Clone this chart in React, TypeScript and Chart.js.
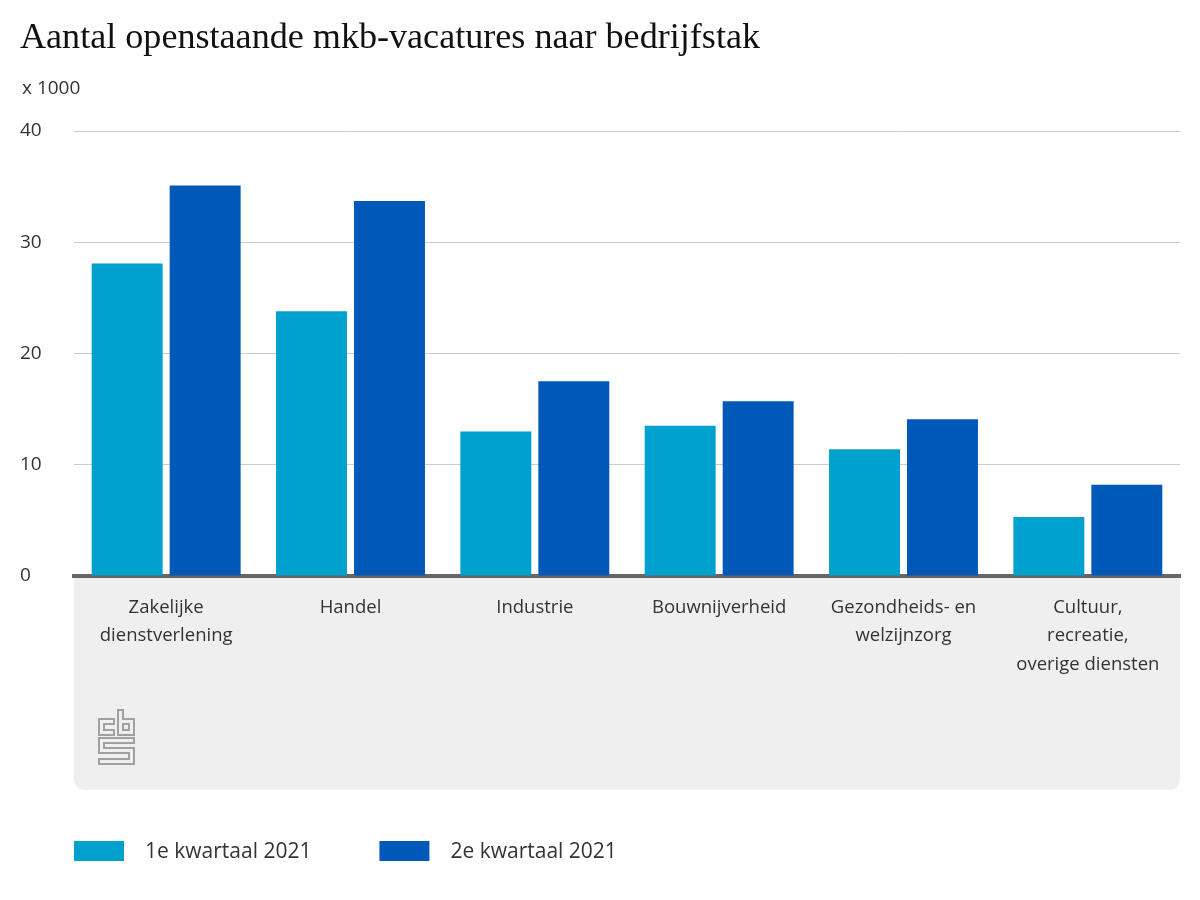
import React, { useEffect, useRef } from "react";
import { Chart, registerables } from "chart.js";

Chart.register(...registerables);

const TITLE = "Aantal openstaande mkb-vacatures naar bedrijfstak";
const UNIT_LABEL = "x 1000";
const categories: string[][] = [
  ["Zakelijke", "dienstverlening"],
  ["Handel"],
  ["Industrie"],
  ["Bouwnijverheid"],
  ["Gezondheids- en", "welzijnzorg"],
  ["Cultuur,", "recreatie,", "overige diensten"],
];
const seriesNames = ["1e kwartaal 2021", "2e kwartaal 2021"];
const q1Values = [28.1, 23.8, 13.0, 13.5, 11.4, 5.3];
const q2Values = [35.1, 33.7, 17.5, 15.7, 14.1, 8.2];
const seriesColors = ["#00a1cd", "#0058b8"];
const yTicks = [0, 10, 20, 30, 40];

const SANS = "'Open Sans', 'Noto Sans', sans-serif";

const decorPlugin = {
  id: "decor",
  beforeDraw(chart: any) {
    const { ctx, chartArea } = chart;
    ctx.save();
    ctx.fillStyle = "#ffffff";
    ctx.fillRect(0, 0, chart.width, chart.height);
    // grey label panel
    const x0 = chartArea.left;
    const x1 = chartArea.right;
    const y0 = chartArea.bottom;
    const y1 = 790;
    const r = 12;
    ctx.fillStyle = "#efefef";
    ctx.beginPath();
    ctx.moveTo(x0, y0);
    ctx.lineTo(x1, y0);
    ctx.lineTo(x1, y1 - r);
    ctx.quadraticCurveTo(x1, y1, x1 - r, y1);
    ctx.lineTo(x0 + r, y1);
    ctx.quadraticCurveTo(x0, y1, x0, y1 - r);
    ctx.closePath();
    ctx.fill();

    // cbs logo
    ctx.strokeStyle = "#a0a0a0";
    ctx.lineWidth = 2;
    ctx.lineJoin = "miter";
    const ox = x0 + 24;
    const oy = 709;
    const P = (pts: number[][], close = false) => {
      ctx.beginPath();
      ctx.moveTo(ox + pts[0][0], oy + pts[0][1]);
      for (let i = 1; i < pts.length; i++) ctx.lineTo(ox + pts[i][0], oy + pts[i][1]);
      if (close) ctx.closePath();
      ctx.stroke();
    };
    // c
    P([[16, 10], [1, 10], [1, 26], [16, 26], [16, 21], [6, 21], [6, 15], [16, 15]], true);
    // b
    P([[20, 1], [20, 26], [36, 26], [36, 10], [25, 10], [25, 1]], true);
    P([[25, 15], [31, 15], [31, 21], [25, 21]], true);
    // s
    P([[36, 29], [1, 29], [1, 44], [31, 44], [31, 50], [1, 50], [1, 55], [36, 55], [36, 39], [6, 39], [6, 34], [36, 34]], true);

    // title
    ctx.fillStyle = "#111111";
    ctx.font = "35px 'Liberation Serif', 'DejaVu Serif', serif";
    ctx.textBaseline = "alphabetic";
    ctx.textAlign = "left";
    const w = ctx.measureText(TITLE).width;
    const target = 740;
    ctx.save();
    ctx.translate(20, 48);
    ctx.scale(target / w, 1);
    ctx.fillText(TITLE, 0, 0);
    ctx.restore();

    // unit label
    ctx.fillStyle = "#333333";
    ctx.font = "19px " + SANS;
    ctx.textBaseline = "middle";
    ctx.fillText(UNIT_LABEL, 22, 89);
    ctx.restore();
  },
  afterDraw(chart: any) {
    const { ctx } = chart;
    ctx.save();
    ctx.font = "21px " + SANS;
    ctx.textBaseline = "middle";
    ctx.textAlign = "left";
    let x = chart.chartArea.left;
    const y = 851;
    chart.data.datasets.forEach((ds: any) => {
      ctx.fillStyle = ds.backgroundColor;
      ctx.fillRect(x, y - 10, 50, 20);
      ctx.fillStyle = "#333333";
      ctx.fillText(ds.label, x + 71, y + 1);
      x += 71 + ctx.measureText(ds.label).width + 68;
    });
    ctx.restore();
  },
};

export default function App() {
  const ref = useRef<HTMLCanvasElement>(null);
  useEffect(() => {
    if (!ref.current) return;
    const chart = new Chart(ref.current, {
      type: "bar",
      data: {
        labels: categories,
        datasets: [
          { label: seriesNames[0], data: q1Values, backgroundColor: seriesColors[0] },
          { label: seriesNames[1], data: q2Values, backgroundColor: seriesColors[1] },
        ],
      },
      options: {
        animation: false,
        responsive: false,
        devicePixelRatio: 1,
        categoryPercentage: 0.846,
        barPercentage: 0.91,
        layout: { padding: { top: 131, left: 20, right: 20, bottom: 110 } },
        plugins: { legend: { display: false }, title: { display: false }, tooltip: { enabled: false } },
        scales: {
          x: {
            grid: { display: false, drawTicks: false },
            border: { display: true, color: "#666666", width: 4 },
            ticks: {
              color: "#333333",
              font: { family: SANS, size: 18.5, lineHeight: 1.52 },
              padding: 18,
              maxRotation: 0,
              autoSkip: false,
            },
            afterFit(scale: any) {
              scale.height = 214;
            },
          },
          y: {
            min: 0,
            max: 40,
            afterBuildTicks(scale: any) {
              scale.ticks = yTicks.map((v) => ({ value: v }));
            },
            grid: { color: "#cccccc", lineWidth: 1, drawTicks: false },
            border: { display: false },
            ticks: {
              color: "#333333",
              font: { family: SANS, size: 19 },
              crossAlign: "far",
              padding: 0,
            },
            afterFit(scale: any) {
              scale.width = 54;
            },
          },
        },
      },
      plugins: [decorPlugin],
    });
    return () => chart.destroy();
  }, []);
  return (
    <div style={{ position: "absolute", left: 0, top: 0, width: 1200, height: 900 }}>
      <canvas ref={ref} width={1200} height={900} />
    </div>
  );
}
